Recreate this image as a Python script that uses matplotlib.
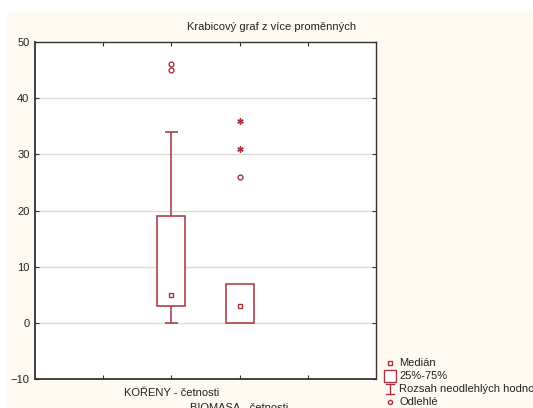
import matplotlib
matplotlib.use("Agg")
import matplotlib.pyplot as plt
from matplotlib.patches import Rectangle
from matplotlib.lines import Line2D

plt.rcParams['font.family'] = ['Liberation Sans', 'DejaVu Sans']

categories = ["KOŘENY - četnosti", "BIOMASA - četnosti"]
positions = [2, 3]
whisker_low = [0, 0]
whisker_high = [34, 0]
q1 = [3, 0]
q3 = [19, 7]
medians = [5, 3]
outliers = [[45, 46], [26]]
extremes = [[], [31, 36]]

title = "Krabicový graf z více proměnných"
yticks = [-10, 0, 10, 20, 30, 40, 50]
legend_labels = ["Medián", "25%-75%", "Rozsah neodlehlých hodnot", "Odlehlé"]

col = '#A8323E'
fs = 8

fig = plt.figure(figsize=(5.33, 4.08), dpi=100, facecolor='white')
fig.patches.append(Rectangle((7/533, 0), 1, (408-12)/408, transform=fig.transFigure,
                             facecolor='#FFFAF1', edgecolor='none', zorder=-10))
ax = fig.add_axes([35/533, (408-379)/408, (376-35)/533, (379-42)/408])
ax.set_facecolor('white')
ax.set_xlim(0, 5)
ax.set_ylim(-10, 50)
ax.set_yticks(yticks)
ax.set_xticks([1, 2, 3, 4])
ax.set_xticklabels([])
for y in yticks[1:-1]:
    ax.axhline(y, color='#DCDCDC', lw=1, zorder=0)
for s in ax.spines.values():
    s.set_color('#333333')
    s.set_linewidth(1)
ax.spines['left'].set_linewidth(1.3)
ax.spines['bottom'].set_linewidth(1.3)
ax.tick_params(axis='both', direction='in', length=3, top=True, right=True,
               colors='#333333', labelsize=fs, labelcolor='#222222', pad=4)

bw = 0.41
cw = 0.19
for i, p in enumerate(positions):
    if whisker_high[i] > q3[i]:
        ax.vlines(p, q3[i], whisker_high[i], color=col, lw=1.1)
        ax.hlines(whisker_high[i], p - cw/2, p + cw/2, color=col, lw=1.1)
    if whisker_low[i] < q1[i]:
        ax.vlines(p, whisker_low[i], q1[i], color=col, lw=1.1)
        ax.hlines(whisker_low[i], p - cw/2, p + cw/2, color=col, lw=1.1)
    ax.bar(p, q3[i] - q1[i], bottom=q1[i], width=bw, facecolor='white',
           edgecolor=col, lw=1.1, zorder=3)
    ax.plot([p], [medians[i]], marker='s', ms=3.5, mfc='white', mec=col, mew=1, zorder=4)
    if outliers[i]:
        ax.plot([p]*len(outliers[i]), outliers[i], ls='none', marker='o', ms=3.5,
                mfc='white', mec=col, mew=1, zorder=4)
    if extremes[i]:
        ax.plot([p]*len(extremes[i]), extremes[i], ls='none', marker=(6, 2, 0), ms=4.5,
                mec=col, mew=1, zorder=4)

# category labels (staggered)
trans = ax.get_xaxis_transform()
ax.text(positions[0], -0.028, categories[0], transform=trans, ha='center', va='top',
        fontsize=fs, color='#222222')
ax.text(positions[1], -0.07, categories[1], transform=trans, ha='center', va='top',
        fontsize=fs, color='#222222')

fig.text(272/533, 1 - 27/408, title, ha='center', va='center', fontsize=fs, color='#222222')

# legend
lx = 390/533
tx = 399/533
ys = [363, 376, 389, 402]
fig.add_artist(Line2D([lx], [1 - ys[0]/408], transform=fig.transFigure, marker='s', ms=3,
                      mfc='white', mec=col, mew=1, ls='none'))
fig.add_artist(Line2D([lx], [1 - ys[1]/408], transform=fig.transFigure, marker='s', ms=8,
                      mfc='white', mec=col, mew=1, ls='none'))
fig.add_artist(Line2D([lx, lx], [1 - (ys[2]-5)/408, 1 - (ys[2]+5)/408],
                      transform=fig.transFigure, color=col, lw=1))
fig.add_artist(Line2D([lx - 4/533, lx + 4/533], [1 - (ys[2]-5)/408]*2,
                      transform=fig.transFigure, color=col, lw=1))
fig.add_artist(Line2D([lx - 4/533, lx + 4/533], [1 - (ys[2]+5)/408]*2,
                      transform=fig.transFigure, color=col, lw=1))
fig.add_artist(Line2D([lx], [1 - ys[3]/408], transform=fig.transFigure, marker='o', ms=3,
                      mfc='white', mec=col, mew=1, ls='none'))
for y, lab in zip(ys, legend_labels):
    fig.text(tx, 1 - y/408, lab, ha='left', va='center', fontsize=fs, color='#222222')

fig.savefig('out.png', dpi=100, facecolor=fig.get_facecolor())
